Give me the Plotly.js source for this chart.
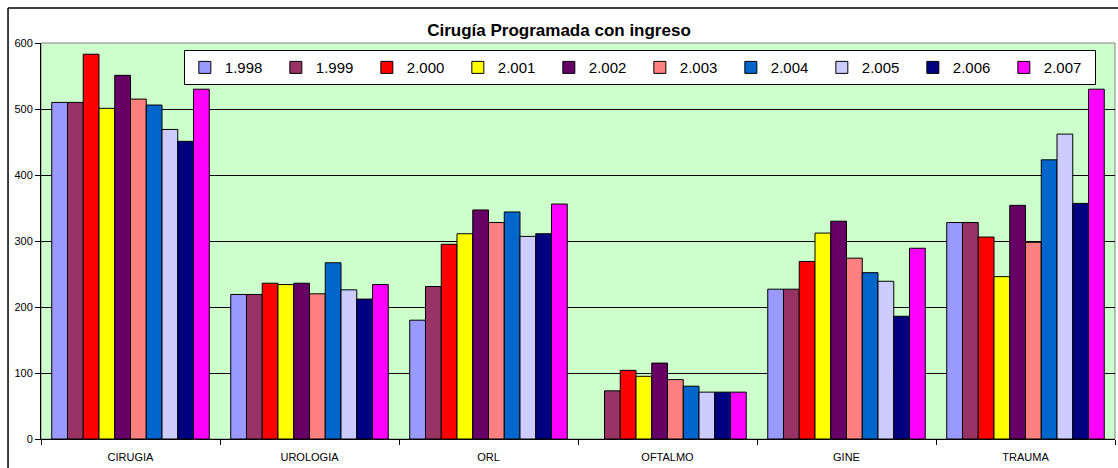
<!DOCTYPE html>
<html>
<head>
<meta charset="utf-8">
<script src="https://cdn.plot.ly/plotly-3.0.1.min.js"></script>
<style>
  html, body { margin: 0; padding: 0; background: #fff; }
  #chart { width: 1118px; height: 468px; }
</style>
</head>
<body>
<div id="chart"></div>
<script>
const categories = ["CIRUGIA", "UROLOGIA", "ORL", "OFTALMO", "GINE", "TRAUMA"];
const years = ["1.998", "1.999", "2.000", "2.001", "2.002", "2.003", "2.004", "2.005", "2.006", "2.007"];
const colors = ["#9999FF", "#993366", "#FF0000", "#FFFF00", "#660066", "#FF8080", "#0066CC", "#CCCCFF", "#000080", "#FF00FF"];

// one array per year, values in category order (null = no bar)
const v1998 = [510, 219, 180, null, 227, 328];
const v1999 = [510, 219, 231, 73, 227, 328];
const v2000 = [583, 236, 295, 104, 269, 306];
const v2001 = [501, 234, 311, 95, 312, 246];
const v2002 = [551, 236, 347, 115, 330, 354];
const v2003 = [515, 220, 328, 90, 274, 298];
const v2004 = [506, 267, 344, 80, 252, 423];
const v2005 = [469, 226, 307, 71, 239, 462];
const v2006 = [451, 212, 311, 71, 186, 357];
const v2007 = [530, 234, 356, 71, 289, 530];

const series = [v1998, v1999, v2000, v2001, v2002, v2003, v2004, v2005, v2006, v2007];

const plotData = series.map((vals, i) => ({
    type: "bar",
    name: years[i],
    x: categories,
    y: vals,
    marker: { color: colors[i], line: { color: "#000", width: 1 } }
}));

const layout = {
    width: 1118,
    height: 468,
    margin: { t: 43, r: 3, b: 29, l: 41, autoexpand: false },
    paper_bgcolor: "#fff",
    plot_bgcolor: "#CCFFCC",
    barmode: "group",
    bargap: 0.12,
    bargroupgap: 0,
    font: { family: "Arial, Liberation Sans, sans-serif", color: "#000" },
    title: {
        text: "<b>Cirugía Programada con ingreso</b>",
        font: { size: 17, family: "Arial, Liberation Sans, sans-serif" },
        x: 0.5, xanchor: "center", y: 0.935, yanchor: "middle"
    },
    xaxis: {
        type: "category",
        showline: true, linecolor: "#000", linewidth: 1,
        ticks: "outside", tickson: "boundaries", ticklen: 5, tickcolor: "#000",
        ticklabelstandoff: 8,
        tickfont: { size: 11 },
        showgrid: false
    },
    yaxis: {
        range: [0, 600],
        dtick: 100,
        showline: true, linecolor: "#000", linewidth: 1,
        ticks: "outside", ticklen: 5, tickcolor: "#000",
        tickfont: { size: 11 },
        gridcolor: "#000", gridwidth: 1,
        zeroline: false
    },
    legend: {
        orientation: "h",
        x: 0.133, xanchor: "left",
        y: 0.982, yanchor: "top",
        bgcolor: "#fff",
        bordercolor: "#000", borderwidth: 1,
        font: { size: 15 },
        entrywidth: 46, entrywidthmode: "pixels",
        itemwidth: 30,
        traceorder: "normal"
    },
    shapes: [
        { type: "rect", xref: "paper", yref: "paper", x0: 0, x1: 1, y0: 0, y1: 1,
          line: { color: "#808080", width: 1 }, layer: "below" },
        { type: "line", xref: "paper", yref: "paper", x0: -0.0307, x1: 1.01, y0: 1.0884, y1: 1.0884,
          line: { color: "#000", width: 1.5 } },
        { type: "line", xref: "paper", yref: "paper", x0: -0.0307, x1: -0.0307, y0: -0.1, y1: 1.0884,
          line: { color: "#000", width: 1.5 } }
    ]
};

Plotly.newPlot("chart", plotData, layout, { displayModeBar: false, responsive: false });
</script>
</body>
</html>
